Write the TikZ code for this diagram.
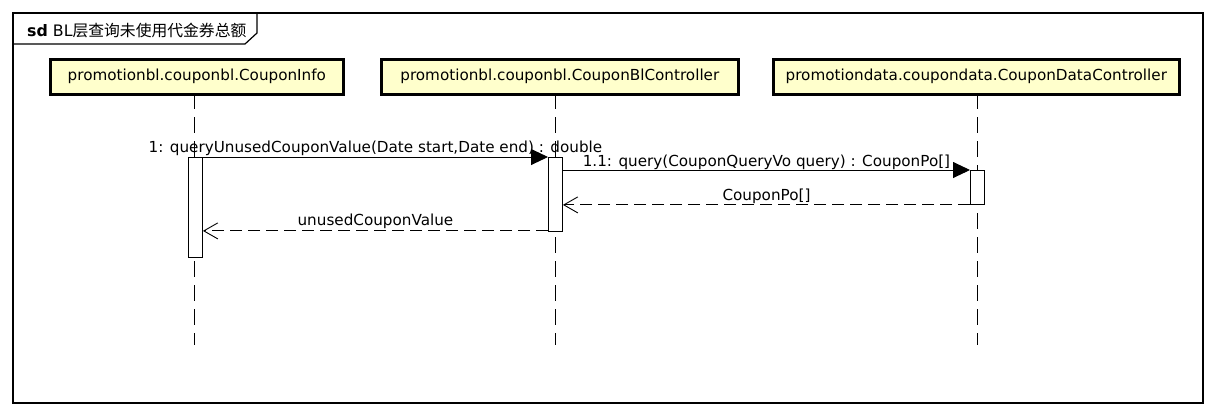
\documentclass[tikz,border=0pt]{standalone}
\usepackage{fontspec}
\setmainfont{DejaVu Sans}
\newfontfamily\cjk{Noto Sans CJK SC}
\usetikzlibrary{arrows.meta,calc}
\definecolor{boxfill}{HTML}{FFFFCC}
\begin{document}
\begin{tikzpicture}[x=1pt,y=-1pt,
  every node/.style={font=\fontsize{15.2}{18}\selectfont},
  lifebox/.style={draw,line width=2.6pt,fill=boxfill,minimum height=35pt,inner sep=0pt,anchor=north west},
  lifeline/.style={line width=0.9pt,dash pattern=on 16pt off 8pt},
  actbar/.style={draw,fill=white,line width=0.9pt,minimum width=14pt,inner sep=0pt,anchor=north west},
  callmsg/.style={line width=0.9pt,-{Triangle[length=17pt,width=16pt]}},
  retmsg/.style={line width=0.9pt,dash pattern=on 12pt off 6pt,-{Straight Barb[length=14pt,width=16pt,line width=0.9pt]}},
  msglabel/.style={anchor=base,inner sep=0pt}
]
\useasboundingbox (0,0) rectangle (1216,416);
% frame
\draw[line width=1.2pt] (13,13) rectangle (1203,403);
\draw[line width=1.2pt] (13,44) -- (245,44) -- (257,33) -- (257,13);
\node[anchor=base west,inner sep=0pt,font=\fontsize{15.8}{18}\selectfont] (title) at (27,36) {\textbf{sd} BL{\cjk 层查询未使用代金券总额}};

% lifeline heads
\node[lifebox,minimum width=293pt] (L1) at (49,58) {promotionbl.couponbl.CouponInfo};
\node[lifebox,minimum width=357pt] (L2) at (380,58) {promotionbl.couponbl.CouponBlController};
\node[lifebox,minimum width=406pt] (L3) at (772,58) {promotiondata.coupondata.CouponDataController};

\coordinate (E1) at (194,345);
\coordinate (E2) at (555,345);
\coordinate (E3) at (977,345);
\draw[lifeline] (194,93) -- (E1);
\draw[lifeline] (555,93) -- (E2);
\draw[lifeline] (977,93) -- (E3);

% activation bars
\node[actbar,minimum height=100pt] (A1) at (188,157) {};
\node[actbar,minimum height=74pt] (A2) at (548,157) {};
\node[actbar,minimum height=34pt] (A3) at (970,170) {};

% messages
\coordinate (m11s) at (A2.east |- A3.north);
\draw[callmsg] (A1.north east) -- (A2.north west);
\node[msglabel] (t1) at ($(A1.north east)!0.5!(A2.north west)+(0,-5)$) {1: queryUnusedCouponValue(Date start,Date end) : double};
\draw[callmsg] (m11s) -- (A3.north west);
\node[msglabel] (t11) at ($(m11s)!0.5!(A3.north west)+(0,-4)$) {1.1: query(CouponQueryVo query) : CouponPo[]};
\coordinate (r1e) at (A2.east |- A3.south);
\draw[retmsg] (A3.south west) -- (r1e);
\node[msglabel] (t12) at ($(A3.south west)!0.5!(r1e)+(0,-4)$) {CouponPo[]};
\coordinate (r2s) at ($(A2.south west)+(0,-1)$);
\coordinate (r2e) at (A1.east |- r2s);
\draw[retmsg] (r2s) -- (r2e);
\node[msglabel] (t2) at ($(r2s)!0.5!(r2e)+(0,-5)$) {unusedCouponValue};
\end{tikzpicture}
\end{document}
